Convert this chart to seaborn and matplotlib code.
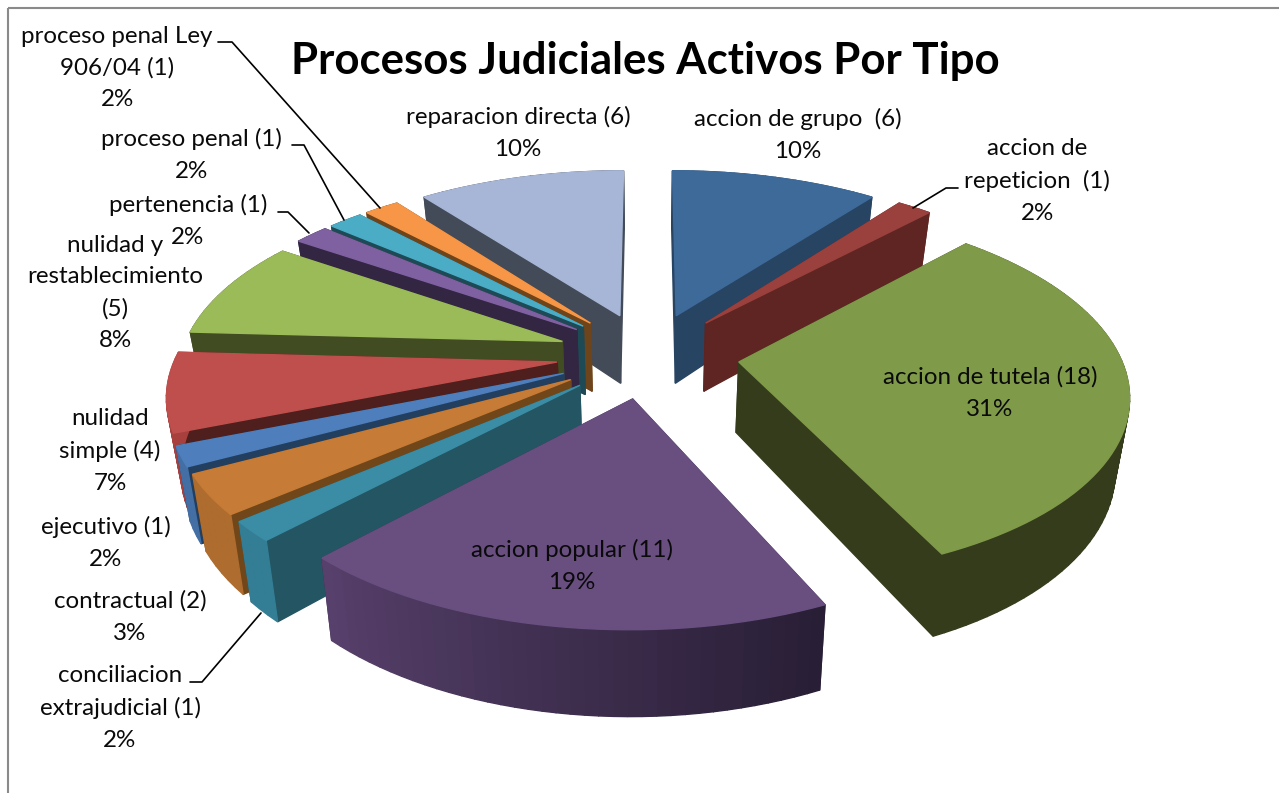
import numpy as np
import matplotlib
matplotlib.use("Agg")
import matplotlib.pyplot as plt
from matplotlib.colors import to_rgb
from matplotlib.patches import Rectangle
import seaborn as sns

# ---- data ----
categorias = ["accion de grupo  (6)", "accion de\nrepeticion  (1)", "accion de tutela (18)",
              "accion popular (11)", "conciliacion\nextrajudicial (1)", "contractual (2)",
              "ejecutivo (1)", "nulidad\nsimple (4)", "nulidad y\nrestablecimiento\n(5)",
              "pertenencia (1)", "proceso penal (1)", "proceso penal Ley\n906/04 (1)",
              "reparacion directa (6)"]
valores = [6, 1, 18, 11, 1, 2, 1, 4, 5, 1, 1, 1, 6]
porcentajes = [10, 2, 31, 19, 2, 3, 2, 7, 8, 2, 2, 2, 10]
titulo = "Procesos Judiciales Activos Por Tipo"

# ---- styles ----
c_top = ["#3E6A9A", "#9A403D", "#7F9A48", "#684F80", "#3A8DA5", "#C67B36", "#4E7EBB",
         "#BE4F4C", "#9BBB59", "#7F60A0", "#4BACC6", "#F79646", "#A7B6D6"]
c_rad = ["#274463", "#5E2522", "#343C1C", "#3A2C4A", "#235563", "#71471A", "#233F60",
         "#4E1F1C", "#414C22", "#322643", "#1E4A56", "#6E441B", "#434B59"]
c_out0 = ["#274463", "#5E2522", "#343C1C", "#57406B", "#337E94", "#AE6C2E", "#436FA5",
          "#A8403D", "#414C22", "#322643", "#1E4A56", "#6E441B", "#434B59"]
c_out1 = ["#274463", "#5E2522", "#343C1C", "#281E35", "#337E94", "#AE6C2E", "#436FA5",
          "#A8403D", "#414C22", "#322643", "#1E4A56", "#6E441B", "#434B59"]
pos_etq = [(798, 135), (1037, 181), (990, 393), (572, 566), (120, 708), (130, 617), (106, 543),
           (110, 451), (115, 293), (188, 221), (191, 155), (117, 68), (518, 133)]

CX, CY, R, RY, K, EXPL, DZ, ENCOGE = 648, 355, 381, 179, 0.157, 0.24, 70, 0.97

sns.set_theme(style="white")
plt.rcParams["font.family"] = ["Lato", "DejaVu Sans"]
paleta = sns.color_palette(c_top)

fig = plt.figure(figsize=(12.79, 7.93), dpi=100, facecolor="white")
ax = fig.add_axes([0, 0, 1, 1])
ax.set_xlim(0, 1279)
ax.set_ylim(793, 0)
ax.axis("off")
ax.add_patch(Rectangle((8, 8), 1290, 820, fill=False, ec="#8A8A8A", lw=1.5, zorder=0))


def proy(X, Y, abajo=False):
    X, Y = np.asarray(X, float), np.asarray(Y, float)
    w = 1 + K * Y
    px = CX + R * X / w
    py = CY - RY * Y / w
    if abajo:
        px = CX + (px - CX) * ENCOGE
        py = py + DZ / w
    return px, py


def poli(xs, ys, color):
    ax.fill(xs, ys, color=color, lw=1.0, ec=color)


total = sum(valores)
limites = np.cumsum([0] + valores) / total * 2 * np.pi
cunas = []
for i in range(len(valores)):
    a0, a1 = limites[i], limites[i + 1]
    am = (a0 + a1) / 2
    cunas.append((np.cos(am), i, a0, a1, am))

for _, i, a0, a1, am in sorted(cunas, key=lambda t: -t[0]):
    ox, oy = EXPL * np.sin(am), EXPL * np.cos(am)
    n = max(4, int((a1 - a0) / 0.03))
    th = np.linspace(a0, a1, n)
    X, Y = ox + np.sin(th), oy + np.cos(th)
    ax0, ay0 = proy(ox, oy)
    ax1, ay1 = proy(ox, oy, True)
    for ex in (0, -1):
        x0, y0 = proy(X[ex], Y[ex])
        x1, y1 = proy(X[ex], Y[ex], True)
        poli([ax0, x0, x1, ax1], [ay0, y0, y1, ay1], c_rad[i])
    xt, yt = proy(X, Y)
    xb, yb = proy(X, Y, True)
    c0, c1 = np.array(to_rgb(c_out1[i])), np.array(to_rgb(c_out0[i]))
    for j in range(n - 1):
        f = j / max(n - 2, 1)
        poli([xt[j], xt[j + 1], xb[j + 1], xb[j]], [yt[j], yt[j + 1], yb[j + 1], yb[j]],
             tuple(c0 + (c1 - c0) * f))
    poli(np.r_[ax0, xt], np.r_[ay0, yt], paleta[i])

for cat, pct, (x, y) in zip(categorias, porcentajes, pos_etq):
    ax.text(x, y, f"{cat}\n{pct}%", ha="center", va="center", fontsize=17.4,
            color="#0A0A0A", linespacing=1.62, zorder=10)

ax.text(645, 61, titulo, ha="center", va="center", fontsize=31.5, fontweight="bold",
        color="black", zorder=10)

guias = [[(218, 42), (232, 42), (380, 208)],
         [(292, 145), (304, 145), (344, 220)],
         [(278, 212), (288, 212), (309, 233)],
         [(190, 682), (202, 682), (261, 613)],
         [(958, 188), (946, 188), (913, 208)]]
for g in guias:
    ax.plot(*zip(*g), color="black", lw=1.2, zorder=9)

fig.savefig("out.png", dpi=100)
